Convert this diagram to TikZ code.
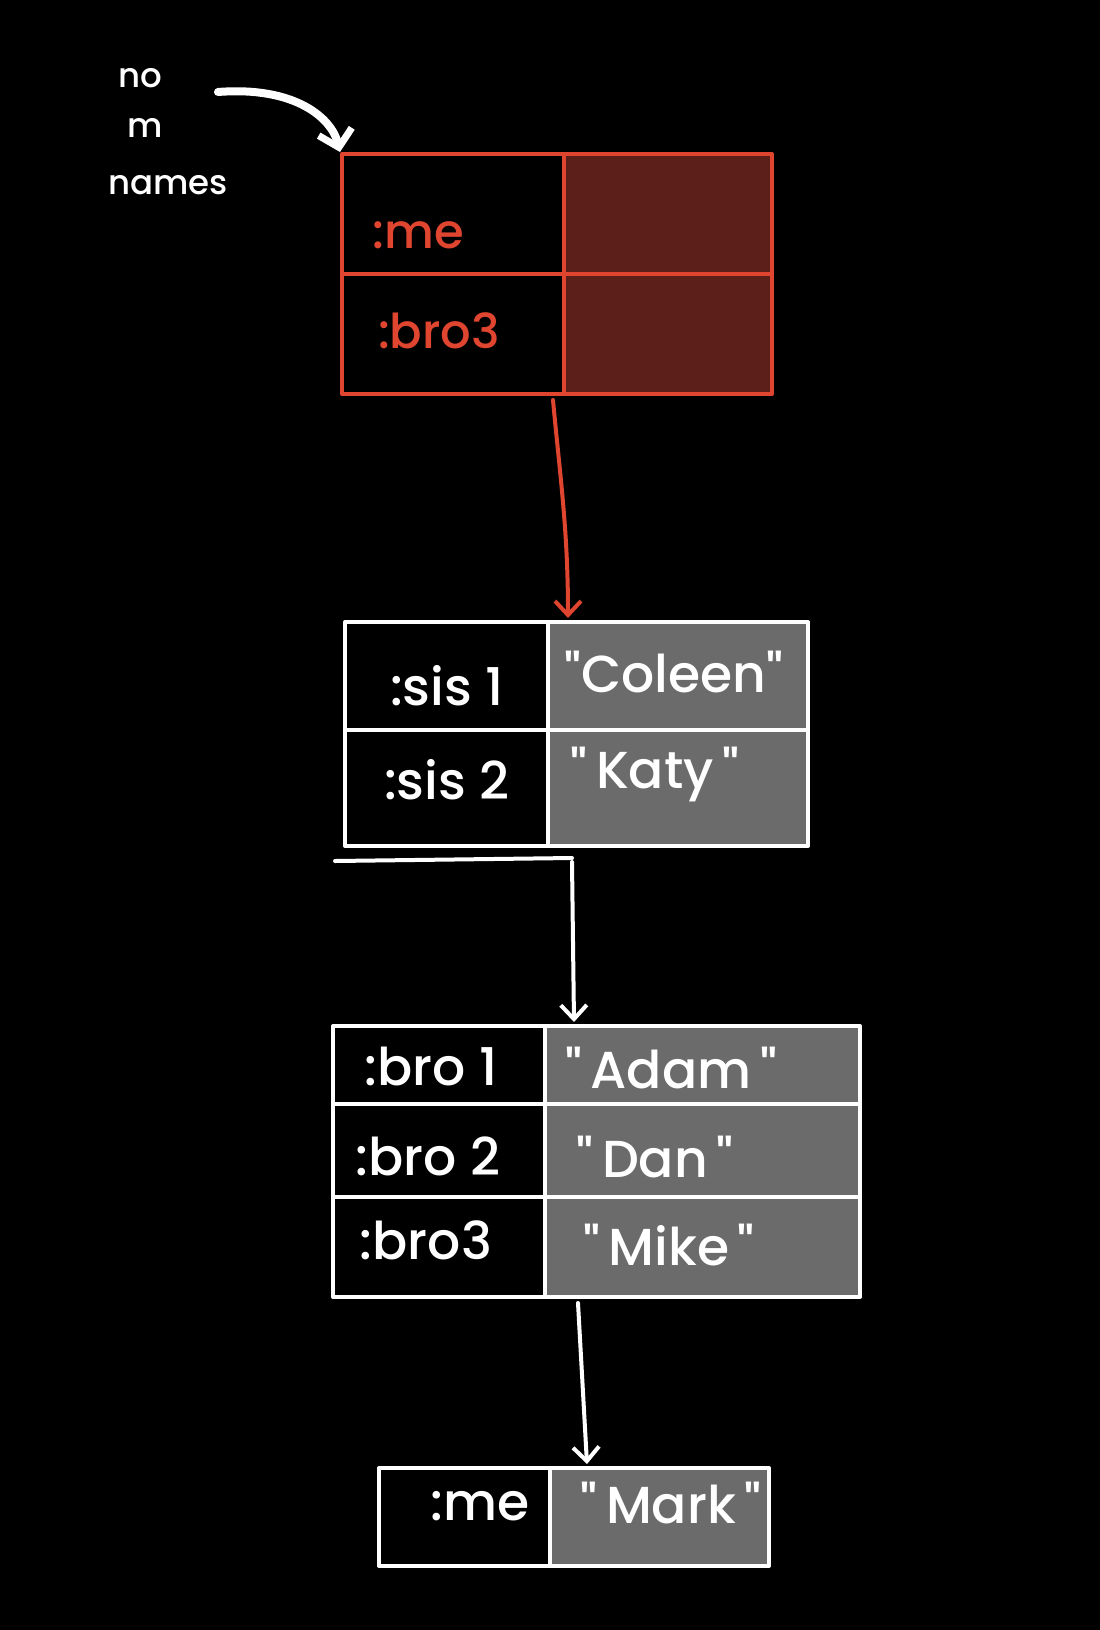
\documentclass[tikz,border=0pt]{standalone}
\usepackage{fontspec}
\setmainfont{Poppins}
\newfontfamily\handfont{Poppins Medium}
\usetikzlibrary{arrows.meta,calc}
\definecolor{redline}{HTML}{E0452F}
\definecolor{redfill}{HTML}{5C1F19}
\definecolor{grayfill}{HTML}{6B6B6B}
\tikzset{
  cellbase/.style={anchor=north west, inner sep=0pt, line width=4pt, line join=round},
  rkey/.style={cellbase, draw=redline, fill=black},
  rval/.style={cellbase, draw=redline, fill=redfill},
  wkey/.style={cellbase, draw=white, fill=black},
  wval/.style={cellbase, draw=white, fill=grayfill},
  lbl/.style={text=white, font=\handfont\fontsize{52}{56}\selectfont, inner sep=0pt},
  rlbl/.style={lbl, text=redline, font=\handfont\fontsize{48}{52}\selectfont},
  note/.style={text=white, font=\handfont\fontsize{34}{38}\selectfont, inner sep=0pt},
  wlink/.style={draw=white, line width=4pt, line cap=round, -{Straight Barb[length=14pt,width=26pt,line width=4pt]}},
  rlink/.style={wlink, draw=redline},
}
\newcommand{\qq}[1]{\raisebox{0pt}{"}#1\raisebox{0pt}{"}}
\begin{document}
\begin{tikzpicture}[x=1pt,y=-1pt]
\fill[black] (0,0) rectangle (1100,1630);
\useasboundingbox (0,0) rectangle (1100,1630);

% note
\node[note] (n1) at (140,78) {no};
\node[note] (n2) at (145,128) {m};
\node[note] (n3) at (168,185) {names};
\coordinate (cs) at (218,92);

% box 1 (red)
\node[rkey, minimum width=222pt, minimum height=120pt] (k11) at (340,152) {};
\node[rval, minimum width=208pt, minimum height=120pt] (v11) at (562,152) {};
\node[rkey, minimum width=222pt, minimum height=120pt] (k12) at (340,272) {};
\node[rval, minimum width=208pt, minimum height=120pt] (v12) at (562,272) {};
\node[rlbl] (t11) at (418,235) {:me};
\node[rlbl] (t12) at (439,331) {:bro3};

% box 2
\node[wkey, minimum width=203pt, minimum height=108pt] (k21) at (343,620) {};
\node[wval, minimum width=260pt, minimum height=108pt] (v21) at (546,620) {};
\node[wkey, minimum width=203pt, minimum height=116pt] (k22) at (343,728) {};
\node[wval, minimum width=260pt, minimum height=116pt] (v22) at (546,728) {};
\node[lbl] (t21) at (447,686) {:sis 1};
\node[lbl] (t22) at (447,780) {:sis 2};
\node[lbl] (u21) at (674,672) {\qq{Coleen}};
\node[lbl] (u22) at (655,775) {\qq{\,Katy\,}};
\draw[white, line width=4pt, line cap=round] ($(k22.south west)+(-8,13)$) -- ($(v22.south west)+(26,10)$);

% box 3
\node[wkey, minimum width=212pt, minimum height=78pt] (k31) at (331,1024) {};
\node[wval, minimum width=315pt, minimum height=78pt] (v31) at (543,1024) {};
\node[wkey, minimum width=212pt, minimum height=93pt] (k32) at (331,1102) {};
\node[wval, minimum width=315pt, minimum height=93pt] (v32) at (543,1102) {};
\node[wkey, minimum width=212pt, minimum height=100pt] (k33) at (331,1195) {};
\node[wval, minimum width=315pt, minimum height=100pt] (v33) at (543,1195) {};
\node[lbl] (t31) at (431,1066) {:bro 1};
\node[lbl] (t32) at (428,1156) {:bro 2};
\node[lbl] (t33) at (426,1240) {:bro3};
\node[lbl] (u31) at (671,1068) {\qq{\,Adam\,}};
\node[lbl] (u32) at (655,1157) {\qq{\,Dan\,}};
\node[lbl] (u33) at (669,1245) {\qq{\,Mike\,}};

% box 4
\node[wkey, minimum width=171pt, minimum height=98pt] (k41) at (377,1466) {};
\node[wval, minimum width=219pt, minimum height=98pt] (v41) at (548,1466) {};
\node[lbl] (t41) at (480,1506) {:me};
\node[lbl] (u41) at (671,1503) {\qq{\,Mark\,}};

% connectors
\draw[wlink, line width=8pt, -{Straight Barb[length=16pt,width=34pt,line width=7pt]}]
  (cs) .. controls (295,86) and (332,118) .. (k11.north west);
\draw[rlink] ($(k12.south east)+(-13,4)$) .. controls ($(k12.south east)+(-6,80)$) and ($(v21.north west)+(22,-90)$) .. ($(v21.north west)+(22,-2)$);
\draw[wlink] ($(v22.south west)+(26,14)$) -- ($(v31.north west)+(31,-2)$);
\draw[wlink] ($(v33.south west)+(35,4)$) -- ($(v41.north west)+(39,-2)$);
\end{tikzpicture}
\end{document}
